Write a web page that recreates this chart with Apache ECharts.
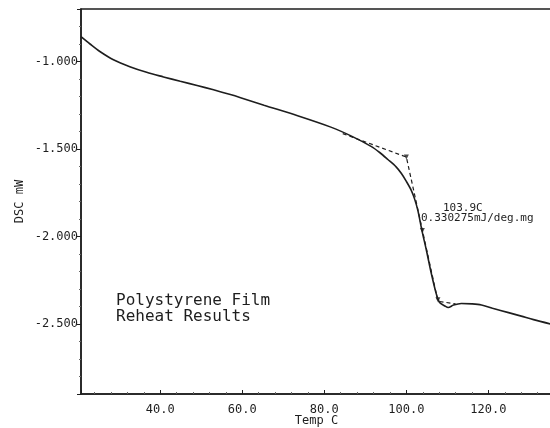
<!DOCTYPE html>
<html>
<head>
<meta charset="utf-8">
<script src="https://cdn.jsdelivr.net/npm/echarts@6/dist/echarts.min.js"></script>
<style>
  html, body { margin: 0; padding: 0; background: #fff; }
  #container { width: 550px; height: 428px; }
</style>
</head>
<body>
<div id="container"></div>
<script>
// DSC reheat curve (temp C, mW)
var temps = [20.7, 22.9, 25.3, 28.6, 32.6, 36.7, 40.8, 44.9, 49.0, 53.0, 57.1, 59.6,
    65.3, 73.5, 81.6, 86.5, 91.4, 93.5, 95.5, 97.5, 98.8, 100.0, 101.2, 102.0, 102.8,
    103.8, 104.9, 106.1, 107.3, 108.1, 109.4, 110.2, 111.5, 113.4, 116.0, 118.3,
    121.0, 124.9, 128.0, 131.0, 135.5];
var dsc = [-0.858, -0.900, -0.943, -0.990, -1.030, -1.062, -1.088, -1.113, -1.137, -1.162, -1.189, -1.207,
    -1.250, -1.310, -1.375, -1.425, -1.485, -1.520, -1.560, -1.602, -1.640, -1.685, -1.736, -1.785, -1.851,
    -1.966, -2.080, -2.213, -2.328, -2.377, -2.397, -2.406, -2.392, -2.383, -2.385, -2.391,
    -2.410, -2.435, -2.455, -2.475, -2.502];

// tangent construction (dashed)
var tanT = [84.5, 100.0, 107.7, 112.0];
var tanV = [-1.412, -1.546, -2.370, -2.385];
// marks on the construction
var markT = [100.0, 103.9, 107.7];
var markV = [-1.546, -1.966, -2.362];

var xMin = 20.7, xMax = 135.5;
var yMin = -2.9, yMax = -0.7;

var mono = 'DejaVu Sans Mono';
var ink = '#1e1e1e';

function pairs(a, b) {
    var out = [];
    for (var i = 0; i < a.length; i++) out.push([a[i], b[i]]);
    return out;
}

var myChart = echarts.init(document.getElementById('container'));
var option = {
    animation: false,
    backgroundColor: '#fff',
    grid: {
        left: 81, top: 9, right: -2, bottom: 34,
        outerBoundsMode: 'none',
        containLabel: false,
        show: true, borderColor: ink, borderWidth: 1.5, backgroundColor: 'transparent'
    },
    xAxis: {
        type: 'value',
        min: xMin, max: xMax,
        splitNumber: 5,
        name: 'Temp C',
        nameLocation: 'middle',
        nameGap: 21,
        nameMoveOverlap: false,
        nameTextStyle: { fontFamily: mono, fontSize: 12, color: ink },
        axisLine: { show: true, lineStyle: { color: ink, width: 1.5 } },
        axisTick: { show: true, inside: true, length: 4, lineStyle: { color: ink } },
        minorTick: { show: true, splitNumber: 5, length: 2, lineStyle: { color: '#666' } },
        splitLine: { show: false },
        axisLabel: {
            fontFamily: mono, fontSize: 12, color: ink, margin: 10,
            showMinLabel: false, showMaxLabel: false,
            formatter: function (v) { return v.toFixed(1); }
        }
    },
    yAxis: {
        type: 'value',
        min: yMin, max: yMax,
        splitNumber: 5,
        name: 'DSC mW',
        nameLocation: 'middle',
        nameGap: 55,
        nameMoveOverlap: false,
        nameTextStyle: { fontFamily: mono, fontSize: 12, color: ink },
        axisLine: { show: true, lineStyle: { color: ink, width: 1.5 } },
        axisTick: { show: true, inside: false, length: 4, lineStyle: { color: ink } },
        minorTick: { show: true, splitNumber: 5, length: 2, lineStyle: { color: '#666' } },
        splitLine: { show: false },
        axisLabel: {
            fontFamily: mono, fontSize: 12, color: ink, margin: 3,
            showMinLabel: false, showMaxLabel: false,
            formatter: function (v) { return v.toFixed(3); }
        }
    },
    series: [
        {
            type: 'line',
            data: pairs(temps, dsc),
            smooth: 0.3,
            showSymbol: false,
            lineStyle: { color: ink, width: 1.6 }
        },
        {
            type: 'line',
            data: pairs(tanT, tanV),
            showSymbol: false,
            lineStyle: { color: ink, width: 1.2, type: [4, 3] }
        },
        {
            type: 'scatter',
            data: pairs(markT, markV),
            symbol: 'triangle',
            symbolRotate: 180,
            symbolSize: 5,
            itemStyle: { color: ink }
        }
    ],
    graphic: [
        {
            type: 'text', left: 116, top: 293,
            style: {
                text: 'Polystyrene Film\nReheat Results',
                font: '16px "DejaVu Sans Mono"', fill: ink, lineHeight: 16
            }
        },
        {
            type: 'text', left: 443, top: 203,
            style: { text: '103.9C', font: '11px "DejaVu Sans Mono"', fill: ink }
        },
        {
            type: 'text', left: 421, top: 213,
            style: { text: '0.330275mJ/deg.mg', font: '11px "DejaVu Sans Mono"', fill: ink }
        }
    ]
};
myChart.setOption(option);
</script>
</body>
</html>
